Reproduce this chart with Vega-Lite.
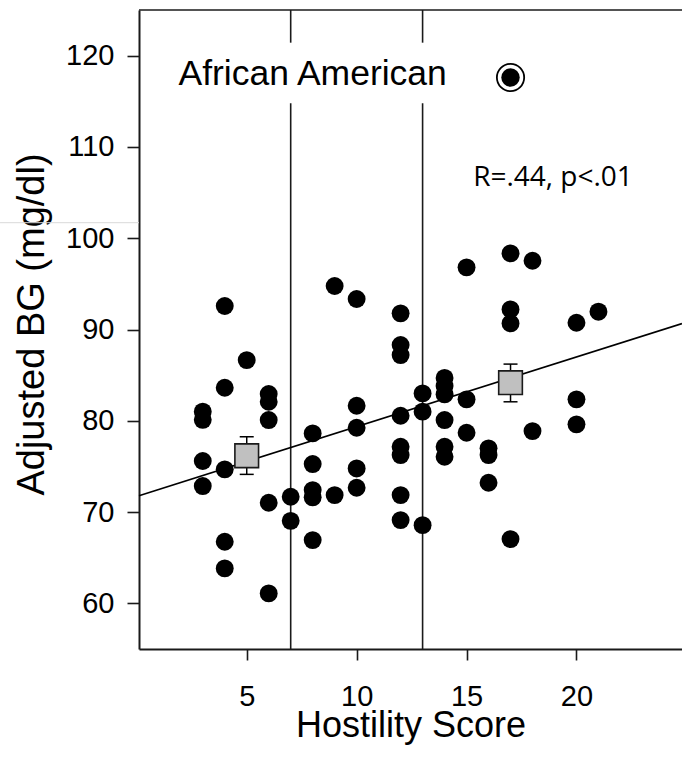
{
  "$schema": "https://vega.github.io/schema/vega-lite/v6.json",
  "width": 543,
  "height": 639,
  "autosize": {"type": "none"},
  "padding": {"left": 139, "top": 10, "right": 0, "bottom": 108},
  "background": "white",
  "config": {
    "view": {"stroke": null},
    "font": "Liberation Sans",
    "axis": {"grid": false, "labelColor": "black", "titleColor": "black", "titleFontWeight": "normal", "domainColor": "#1a1a1a", "domainWidth": 2, "tickColor": "#1a1a1a", "tickWidth": 1.6, "labelFont": "Liberation Sans", "titleFont": "Liberation Sans", "labelFlush": false, "labelOverlap": false}
  },
  "datasets": {
    "points": [
      {"x": 3, "y": 81.0}, {"x": 3, "y": 80.1}, {"x": 3, "y": 75.6}, {"x": 3, "y": 72.85},
      {"x": 4, "y": 92.57}, {"x": 4, "y": 83.62}, {"x": 4, "y": 74.68}, {"x": 4, "y": 66.75}, {"x": 4, "y": 63.83},
      {"x": 5, "y": 86.65},
      {"x": 6, "y": 82.93}, {"x": 6, "y": 82.08}, {"x": 6, "y": 80.08}, {"x": 6, "y": 71.02}, {"x": 6, "y": 61.09},
      {"x": 7, "y": 71.68}, {"x": 7, "y": 69.04},
      {"x": 8, "y": 78.62}, {"x": 8, "y": 75.26}, {"x": 8, "y": 72.41}, {"x": 8, "y": 71.61}, {"x": 8, "y": 66.93},
      {"x": 9, "y": 94.76}, {"x": 9, "y": 71.86},
      {"x": 10, "y": 93.34}, {"x": 10, "y": 81.65}, {"x": 10, "y": 79.24}, {"x": 10, "y": 74.78}, {"x": 10, "y": 72.66},
      {"x": 12, "y": 91.77}, {"x": 12, "y": 88.3}, {"x": 12, "y": 87.2}, {"x": 12, "y": 80.55}, {"x": 12, "y": 77.15}, {"x": 12, "y": 76.24}, {"x": 12, "y": 71.86}, {"x": 12, "y": 69.12},
      {"x": 13, "y": 83.0}, {"x": 13, "y": 81.0}, {"x": 13, "y": 68.57},
      {"x": 14, "y": 84.7}, {"x": 14, "y": 83.8}, {"x": 14, "y": 82.9}, {"x": 14, "y": 80.08}, {"x": 14, "y": 77.15}, {"x": 14, "y": 76.06},
      {"x": 15, "y": 96.81}, {"x": 15, "y": 82.35}, {"x": 15, "y": 78.69},
      {"x": 16, "y": 76.98}, {"x": 16, "y": 76.24}, {"x": 16, "y": 73.21},
      {"x": 17, "y": 98.34}, {"x": 17, "y": 92.2}, {"x": 17, "y": 90.67}, {"x": 17, "y": 67.04},
      {"x": 18, "y": 97.53}, {"x": 18, "y": 78.87},
      {"x": 20, "y": 90.74}, {"x": 20, "y": 82.35}, {"x": 20, "y": 79.61},
      {"x": 21, "y": 91.95}
    ],
    "means": [
      {"x": 5, "y": 76.17, "lo": 74.13, "hi": 78.25},
      {"x": 17, "y": 84.17, "lo": 82.08, "hi": 86.21}
    ],
    "caps": [
      {"x": 5, "y": 74.13}, {"x": 5, "y": 78.25}, {"x": 17, "y": 82.08}, {"x": 17, "y": 86.21}
    ],
    "fit": [
      {"x": 0.1, "y": 71.8}, {"x": 24.8, "y": 90.65}
    ],
    "rules": [
      {"x": 7, "x2": 7, "y": 55, "y2": 114.78},
      {"x": 7, "x2": 7, "y": 121.42, "y2": 125},
      {"x": 13, "x2": 13, "y": 55, "y2": 114.78},
      {"x": 13, "x2": 13, "y": 121.42, "y2": 125},
      {"x": 0.1, "x2": 24.8, "y": 125, "y2": 125}
    ],
    "artifact": [
      {"x": -6.22, "x2": 0.1, "y": 101.7, "y2": 101.7}
    ],
    "legend": [
      {"x": 17, "y": 117.6}
    ],
    "title": [
      {"x": 8, "y": 116.78, "label": "African American"}
    ],
    "stat": [
      {"x": 15.3, "y": 105.72, "label": "R=.44, p<.01"}
    ]
  },
  "encoding": {
    "x": {
      "field": "x", "type": "quantitative",
      "scale": {"domain": [0.1, 24.8], "nice": false, "zero": false},
      "axis": {"values": [5, 10, 15, 20], "tickSize": 11, "labelFontSize": 29, "labelBaseline": "alphabetic", "labelPadding": 45, "title": "Hostility Score", "titleFontSize": 36, "titleBaseline": "alphabetic", "titleY": 87}
    },
    "y": {
      "field": "y", "type": "quantitative",
      "scale": {"domain": [55, 125], "nice": false, "zero": false},
      "axis": {"values": [60, 70, 80, 90, 100, 110, 120], "tickSize": 12, "labelPadding": 13, "labelFontSize": 29, "title": "Adjusted BG (mg/dl)", "titleFontSize": 38, "titleBaseline": "alphabetic", "titleX": -96, "titleY": 314, "titleAngle": -90}
    }
  },
  "layer": [
    {
      "data": {"name": "artifact"},
      "mark": {"type": "rule", "color": "#d9d9d9", "strokeWidth": 1, "clip": false},
      "encoding": {"x2": {"field": "x2"}, "y2": {"field": "y2"}}
    },
    {
      "data": {"name": "rules"},
      "mark": {"type": "rule", "color": "#1a1a1a", "strokeWidth": 1.6},
      "encoding": {"x2": {"field": "x2"}, "y2": {"field": "y2"}}
    },
    {
      "data": {"name": "fit"},
      "mark": {"type": "line", "color": "black", "strokeWidth": 1.6},
      "encoding": {}
    },
    {
      "data": {"name": "means"},
      "mark": {"type": "rule", "color": "black", "strokeWidth": 1.5},
      "encoding": {"y": {"field": "lo", "type": "quantitative"}, "y2": {"field": "hi"}}
    },
    {
      "data": {"name": "caps"},
      "mark": {"type": "tick", "orient": "horizontal", "size": 14, "thickness": 1.5, "color": "black", "opacity": 1},
      "encoding": {}
    },
    {
      "data": {"name": "points"},
      "mark": {"type": "point", "shape": "circle", "filled": true, "color": "black", "size": 320, "opacity": 1},
      "encoding": {}
    },
    {
      "data": {"name": "means"},
      "mark": {"type": "point", "shape": "square", "filled": true, "fill": "#c0c0c0", "stroke": "#1a1a1a", "strokeWidth": 1.6, "size": 560, "opacity": 1},
      "encoding": {}
    },
    {
      "data": {"name": "legend"},
      "mark": {"type": "point", "shape": "circle", "filled": false, "stroke": "black", "strokeWidth": 1.8, "size": 745, "opacity": 1},
      "encoding": {}
    },
    {
      "data": {"name": "legend"},
      "mark": {"type": "point", "shape": "circle", "filled": true, "color": "black", "size": 340, "opacity": 1},
      "encoding": {}
    },
    {
      "data": {"name": "title"},
      "mark": {"type": "text", "font": "Liberation Sans", "fontSize": 35.5, "align": "center", "baseline": "alphabetic", "color": "black"},
      "encoding": {"text": {"field": "label"}}
    },
    {
      "data": {"name": "stat"},
      "mark": {"type": "text", "font": "Open Sans", "fontSize": 28, "align": "left", "baseline": "alphabetic", "color": "black"},
      "encoding": {"text": {"field": "label"}}
    }
  ]
}
